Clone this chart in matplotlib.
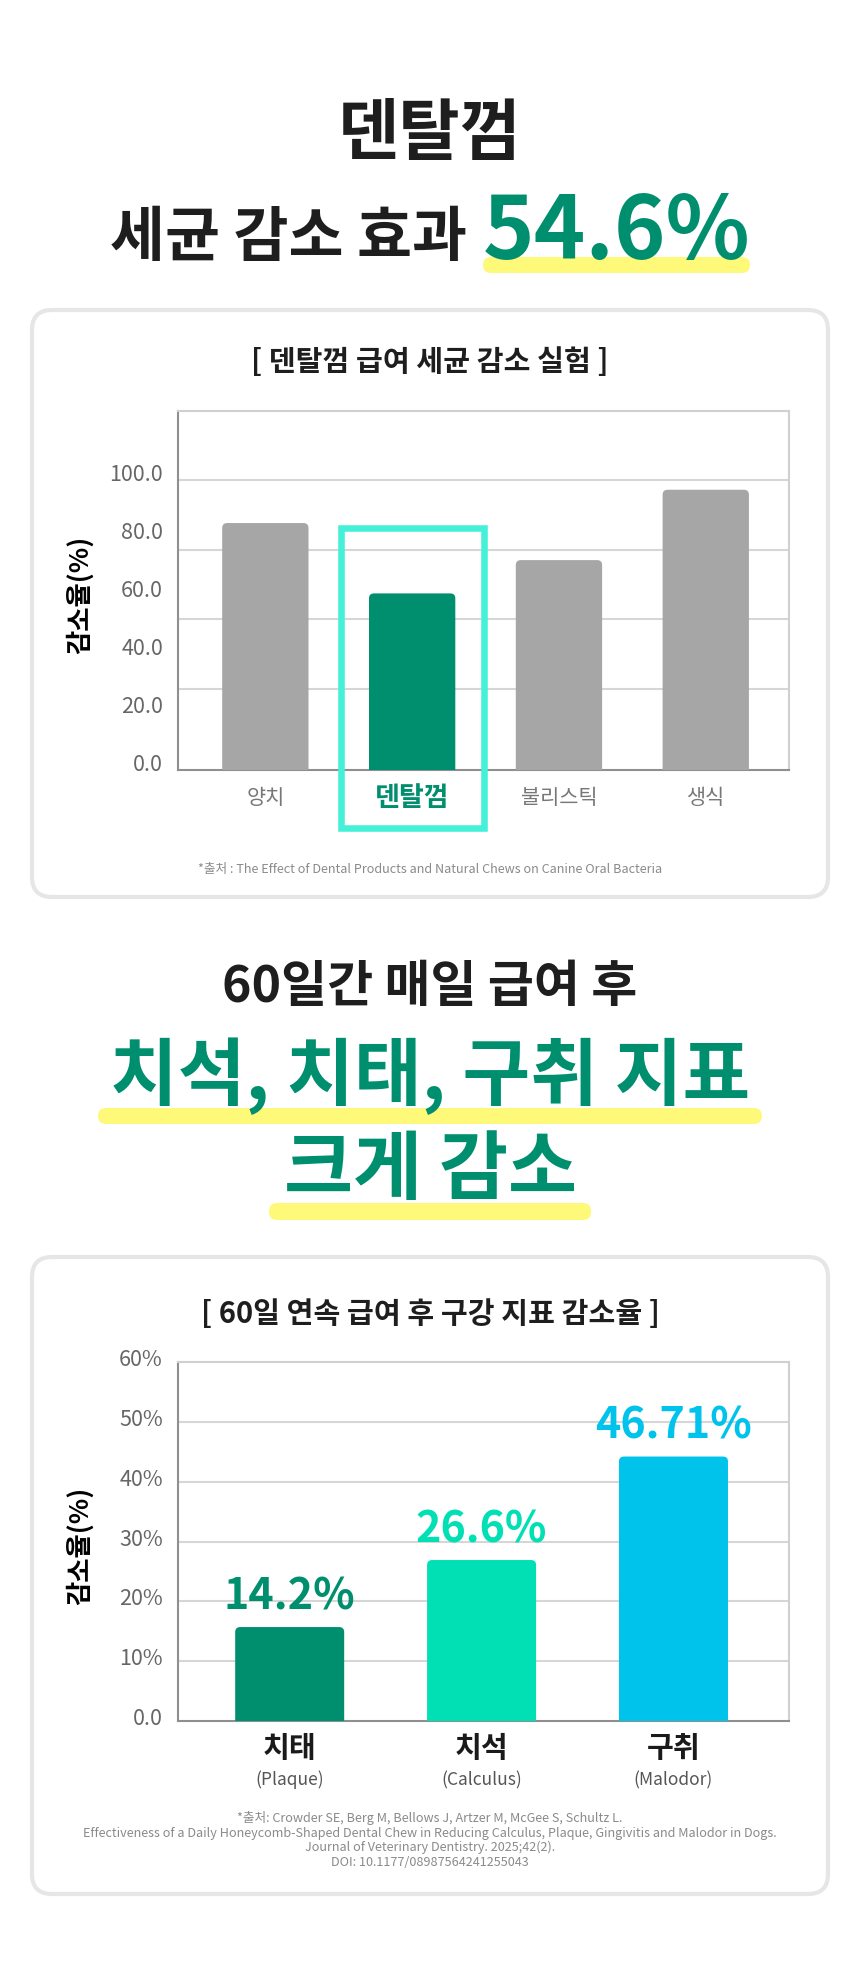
import matplotlib
matplotlib.use('Agg')
import matplotlib.pyplot as plt
from matplotlib.patches import FancyBboxPatch, Rectangle
from matplotlib.transforms import offset_copy

plt.rcParams['font.family'] = ['Noto Sans CJK KR', 'DejaVu Sans']

# ---- data ----
bact_cats = ['양치', '덴탈껌', '불리스틱', '생식']
bact_vals = [85.3, 61.0, 72.5, 96.8]
bact_ticks = [0, 20, 40, 60, 80, 100]
bact_tick_labels = ['0.0', '20.0', '40.0', '60.0', '80.0', '100.0']
bact_grid = [28, 52, 76, 100]

oral_cats = ['치태', '치석', '구취']
oral_sub = ['(Plaque)', '(Calculus)', '(Malodor)']
oral_vals = [15.7, 26.9, 44.2]
oral_labels = ['14.2%', '26.6%', '46.71%']
oral_ticks = [0, 10, 20, 30, 40, 50, 60]
oral_tick_labels = ['0.0', '10%', '20%', '30%', '40%', '50%', '60%']

GREEN = '#008f6e'
MINT = '#00e0b4'
SKY = '#00c3ec'
GRAY = '#a6a6a6'
BOX = '#44f0d8'
YELLOW = '#fff97a'
DARK = '#1e1e1e'

W, H = 860, 1971
fig = plt.figure(figsize=(W / 100, H / 100), dpi=100)

# background layer in pixel coordinates
bg = fig.add_axes([0, 0, 1, 1], zorder=0)
bg.set_xlim(0, W)
bg.set_ylim(H, 0)
bg.axis('off')


def rounded(x0, y0, x1, y1, r, **kw):
    p = FancyBboxPatch((x0, y0), x1 - x0, y1 - y0,
                       boxstyle=f'round,pad=0,rounding_size={r}', **kw)
    bg.add_patch(p)


# cards
rounded(32, 310, 828, 897, 20, fc='white', ec='#e6e6e6', lw=3)
rounded(32, 1257, 828, 1894, 20, fc='white', ec='#e6e6e6', lw=3)

# yellow highlights
rounded(483, 257, 750, 273, 8, fc=YELLOW, ec='none', zorder=1)
rounded(98, 1108, 762, 1124, 8, fc=YELLOW, ec='none', zorder=1)
rounded(269, 1203, 591, 1220, 8, fc=YELLOW, ec='none', zorder=1)

# headlines
bg.text(430, 134.5, '덴탈껌', ha='center', va='center', fontsize=48,
        fontweight='bold', color=DARK, zorder=3)
bg.text(467, 239, '세균 감소 효과', ha='right', va='center', fontsize=43,
        fontweight='bold', color=DARK, zorder=3)
bg.text(483, 234, '54.6%', ha='left', va='center', fontsize=63,
        fontweight='heavy', color=GREEN, zorder=3)

bg.text(430, 988, '60일간 매일 급여 후', ha='center', va='center', fontsize=36,
        fontweight='bold', color=DARK, zorder=3)
bg.text(430, 1076, '치석, 치태, 구취 지표', ha='center', va='center', fontsize=53,
        fontweight='heavy', color=GREEN, zorder=3)
bg.text(430, 1171, '크게 감소', ha='center', va='center', fontsize=54,
        fontweight='heavy', color=GREEN, zorder=3)

# chart titles, y labels, footnotes
bg.text(430, 362, '[ 덴탈껌 급여 세균 감소 실험 ]', ha='center', va='center',
        fontsize=21, fontweight='heavy', color=DARK)
bg.text(430, 1314, '[ 60일 연속 급여 후 구강 지표 감소율 ]', ha='center', va='center',
        fontsize=21, fontweight='heavy', color=DARK)
bg.text(80, 595, '감소율(%)', rotation=90, ha='center', va='center',
        fontsize=19, fontweight='heavy', color='black')
bg.text(80, 1546, '감소율(%)', rotation=90, ha='center', va='center',
        fontsize=19, fontweight='heavy', color='black')
bg.text(430, 869, '*출처 : The Effect of Dental Products and Natural Chews on Canine Oral Bacteria',
        ha='center', va='center', fontsize=9.1, color='#8a8a8a')
bg.text(430, 1840,
        '*출처: Crowder SE, Berg M, Bellows J, Artzer M, McGee S, Schultz L.\n'
        'Effectiveness of a Daily Honeycomb-Shaped Dental Chew in Reducing Calculus, Plaque, Gingivitis and Malodor in Dogs.\n'
        'Journal of Veterinary Dentistry. 2025;42(2).\n'
        'DOI: 10.1177/08987564241255043',
        ha='center', va='center', fontsize=9.1, color='#8a8a8a', linespacing=1.15,
        multialignment='center')


def px_axes(l, t, r, b):
    return fig.add_axes([l / W, 1 - b / H, (r - l) / W, (b - t) / H], zorder=2)


def style_frame(ax):
    ax.set_facecolor('none')
    for s in ['top', 'right']:
        ax.spines[s].set_color('#d0d0d0')
        ax.spines[s].set_linewidth(1.5)
    for s in ['left', 'bottom']:
        ax.spines[s].set_color('#8f8f8f')
        ax.spines[s].set_linewidth(1.5)
    ax.set_xticks([])
    ax.set_yticks([])


def round_tops(ax, bars, r_px):
    bb = ax.get_window_extent()
    x0, x1 = ax.get_xlim()
    y0, y1 = ax.get_ylim()
    xpp = (x1 - x0) / bb.width
    ypp = (y1 - y0) / bb.height
    for b in bars:
        rx = r_px * xpp
        dy = 2 * r_px * ypp
        p = FancyBboxPatch((b.get_x(), -dy), b.get_width(), b.get_height() + dy,
                           boxstyle=f'round,pad=0,rounding_size={rx}',
                           mutation_aspect=ypp / xpp, fc=b.get_facecolor(),
                           ec='none', zorder=b.get_zorder())
        ax.add_patch(p)
        b.remove()


def y_labels(ax, ticks, labels, lift):
    tr = offset_copy(ax.get_yaxis_transform(), fig=fig, x=-15, y=lift, units='dots')
    for v, s in zip(ticks, labels):
        ax.text(0, v, s, transform=tr, ha='right', va='center', fontsize=15.5,
                color='#666666', fontweight='light')


# ---- chart 1 ----
ax1 = px_axes(178, 411, 789, 770)
style_frame(ax1)
ax1.set_xlim(-0.595, 3.567)
ax1.set_ylim(0, 124)
for g in bact_grid:
    ax1.axhline(g, color='#d6d6d6', lw=1.5, zorder=1)
cols1 = [GREEN if c == '덴탈껌' else GRAY for c in bact_cats]
bars1 = ax1.bar(range(len(bact_cats)), bact_vals, width=0.588, color=cols1, zorder=3)
round_tops(ax1, bars1, 5)
y_labels(ax1, bact_ticks, bact_tick_labels, 5)

tr_x1 = offset_copy(ax1.get_xaxis_transform(), fig=fig, x=0, y=-28, units='dots')
for i, c in enumerate(bact_cats):
    if c == '덴탈껌':
        ax1.text(i, 0, c, transform=tr_x1, ha='center', va='center', fontsize=19.5,
                 fontweight='heavy', color=GREEN)
        ax1.add_patch(Rectangle((i - 0.488, -20.1), 0.976, 103.6, fill=False,
                                ec=BOX, lw=4.7, clip_on=False, zorder=4))
    else:
        ax1.text(i, 0, c, transform=tr_x1, ha='center', va='center', fontsize=15,
                 color='#777777')

# ---- chart 2 ----
ax2 = px_axes(178, 1362, 789, 1721)
style_frame(ax2)
ax2.set_xlim(-0.582, 2.602)
ax2.set_ylim(0, 60)
for g in oral_ticks[1:-1]:
    ax2.axhline(g, color='#d6d6d6', lw=1.5, zorder=1)
cols2 = [GREEN, MINT, SKY]
bars2 = ax2.bar(range(len(oral_cats)), oral_vals, width=0.568, color=cols2, zorder=3)
round_tops(ax2, bars2, 5)
y_labels(ax2, oral_ticks, oral_tick_labels, 2)

tr_val = offset_copy(ax2.transData, fig=fig, x=0, y=18, units='dots')
tr_c = offset_copy(ax2.get_xaxis_transform(), fig=fig, x=0, y=-27, units='dots')
tr_s = offset_copy(ax2.get_xaxis_transform(), fig=fig, x=0, y=-59, units='dots')
for i, (c, s, v, lab, col) in enumerate(zip(oral_cats, oral_sub, oral_vals, oral_labels, cols2)):
    ax2.text(i, v, lab, transform=tr_val, ha='center', va='baseline', fontsize=31,
             fontweight='heavy', color=col, clip_on=False)
    ax2.text(i, 0, c, transform=tr_c, ha='center', va='center', fontsize=21,
             fontweight='bold', color='#1a1a1a')
    ax2.text(i, 0, s, transform=tr_s, ha='center', va='center', fontsize=12.5,
             color='#555555')

fig.savefig('out.png', dpi=100, facecolor='white')
